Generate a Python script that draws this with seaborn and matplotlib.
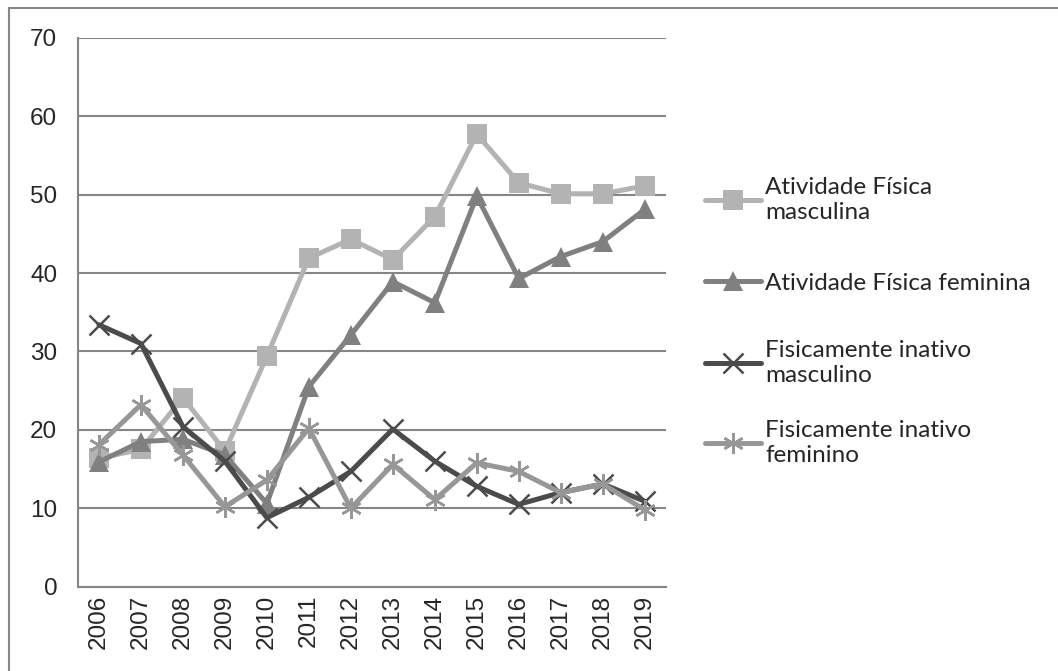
import numpy as np
import pandas as pd
import seaborn as sns
import matplotlib.pyplot as plt
from matplotlib.patches import Rectangle

# Data
years = [2006, 2007, 2008, 2009, 2010, 2011, 2012, 2013, 2014, 2015, 2016, 2017, 2018, 2019]
ativ_masc = [16.4, 17.5, 24.1, 17.3, 29.4, 41.9, 44.3, 41.7, 47.2, 57.7, 51.5, 50.1, 50.1, 51.1]
ativ_fem = [15.9, 18.5, 18.8, 16.8, 10.6, 25.5, 32.1, 38.9, 36.2, 49.8, 39.3, 42.1, 44.0, 48.1]
inat_masc = [33.4, 31.0, 20.4, 16.0, 8.8, 11.4, 14.7, 20.1, 16.0, 12.8, 10.5, 12.0, 13.1, 10.9]
inat_fem = [18.1, 23.2, 16.8, 10.2, 13.6, 20.2, 10.0, 15.6, 11.1, 15.8, 14.7, 12.0, 13.1, 9.8]

labels = ['Atividade Física\nmasculina', 'Atividade Física feminina',
          'Fisicamente inativo\nmasculino', 'Fisicamente inativo\nfeminino']
colors = ['#b3b3b3', '#808080', '#4b4b4b', '#979797']
markers = ['s', '^', 'x', (6, 2, 0)]

df = pd.DataFrame({
    'idx': list(range(len(years))) * 4,
    'valor': ativ_masc + ativ_fem + inat_masc + inat_fem,
    'serie': np.repeat(labels, len(years)),
})

sns.set_style('white')
plt.rcParams['font.family'] = ['Liberation Sans', 'DejaVu Sans']

fig = plt.figure(figsize=(10.58, 6.71), dpi=100)
ax = fig.add_axes([0.0737, 0.1256, 0.5555, 0.8182])

for lab, col, mk in zip(labels, colors, markers):
    sub = df[df['serie'] == lab]
    filled = mk in ('s', '^')
    sns.lineplot(data=sub, x='idx', y='valor', ax=ax, color=col, linewidth=3.6,
                 marker=mk, markersize=14 if filled else 15,
                 markeredgewidth=0 if filled else 1.8,
                 markeredgecolor=col, markerfacecolor=col, label=lab, legend=False)

ax.set_xlim(-0.5, len(years) - 0.5)
ax.set_ylim(0, 70)
ax.set_yticks(range(0, 71, 10))
ax.set_xticks(range(len(years)))
ax.set_xticklabels([str(y) for y in years], rotation=90)
ax.set_xticks(np.arange(-0.5, len(years), 1), minor=True)
ax.tick_params(axis='x', which='major', length=0, labelsize=17.5, pad=6)
ax.tick_params(axis='x', which='minor', length=8, width=1.5, color='#868686', direction='out')
ax.tick_params(axis='y', length=8, width=1.5, color='#868686', direction='out', labelsize=17.5, pad=7)
ax.yaxis.grid(True, color='#868686', linewidth=1.5)
ax.set_axisbelow(True)
for s in ['top', 'right']:
    ax.spines[s].set_visible(False)
for s in ['left', 'bottom']:
    ax.spines[s].set_color('#868686')
    ax.spines[s].set_linewidth(1.5)
ax.set_xlabel('')
ax.set_ylabel('')

# one legend per entry, so the entries sit at Excel's even spacing
h, l = ax.get_legend_handles_labels()
entry_y = [200, 283, 363, 443]
for hh, ll, yy in zip(h, l, entry_y):
    fig.legend([hh], [ll], loc='center left', bbox_to_anchor=(0.666, 1 - yy / 671),
               frameon=False, borderpad=0, borderaxespad=0,
               prop={'family': ['Lato', 'DejaVu Sans'], 'size': 17.5},
               handlelength=2.3, handletextpad=0.2)
for lg in fig.legends:
    for t in lg.get_texts():
        t.set_linespacing(1.25)

# outer chart border
fig.patches.append(Rectangle((9 / 1058, -0.05), 1.2, (671 - 7.5) / 671 + 0.05,
                             transform=fig.transFigure, fill=False,
                             edgecolor='#868686', linewidth=1.5))

fig.savefig('out.png', dpi=100)
